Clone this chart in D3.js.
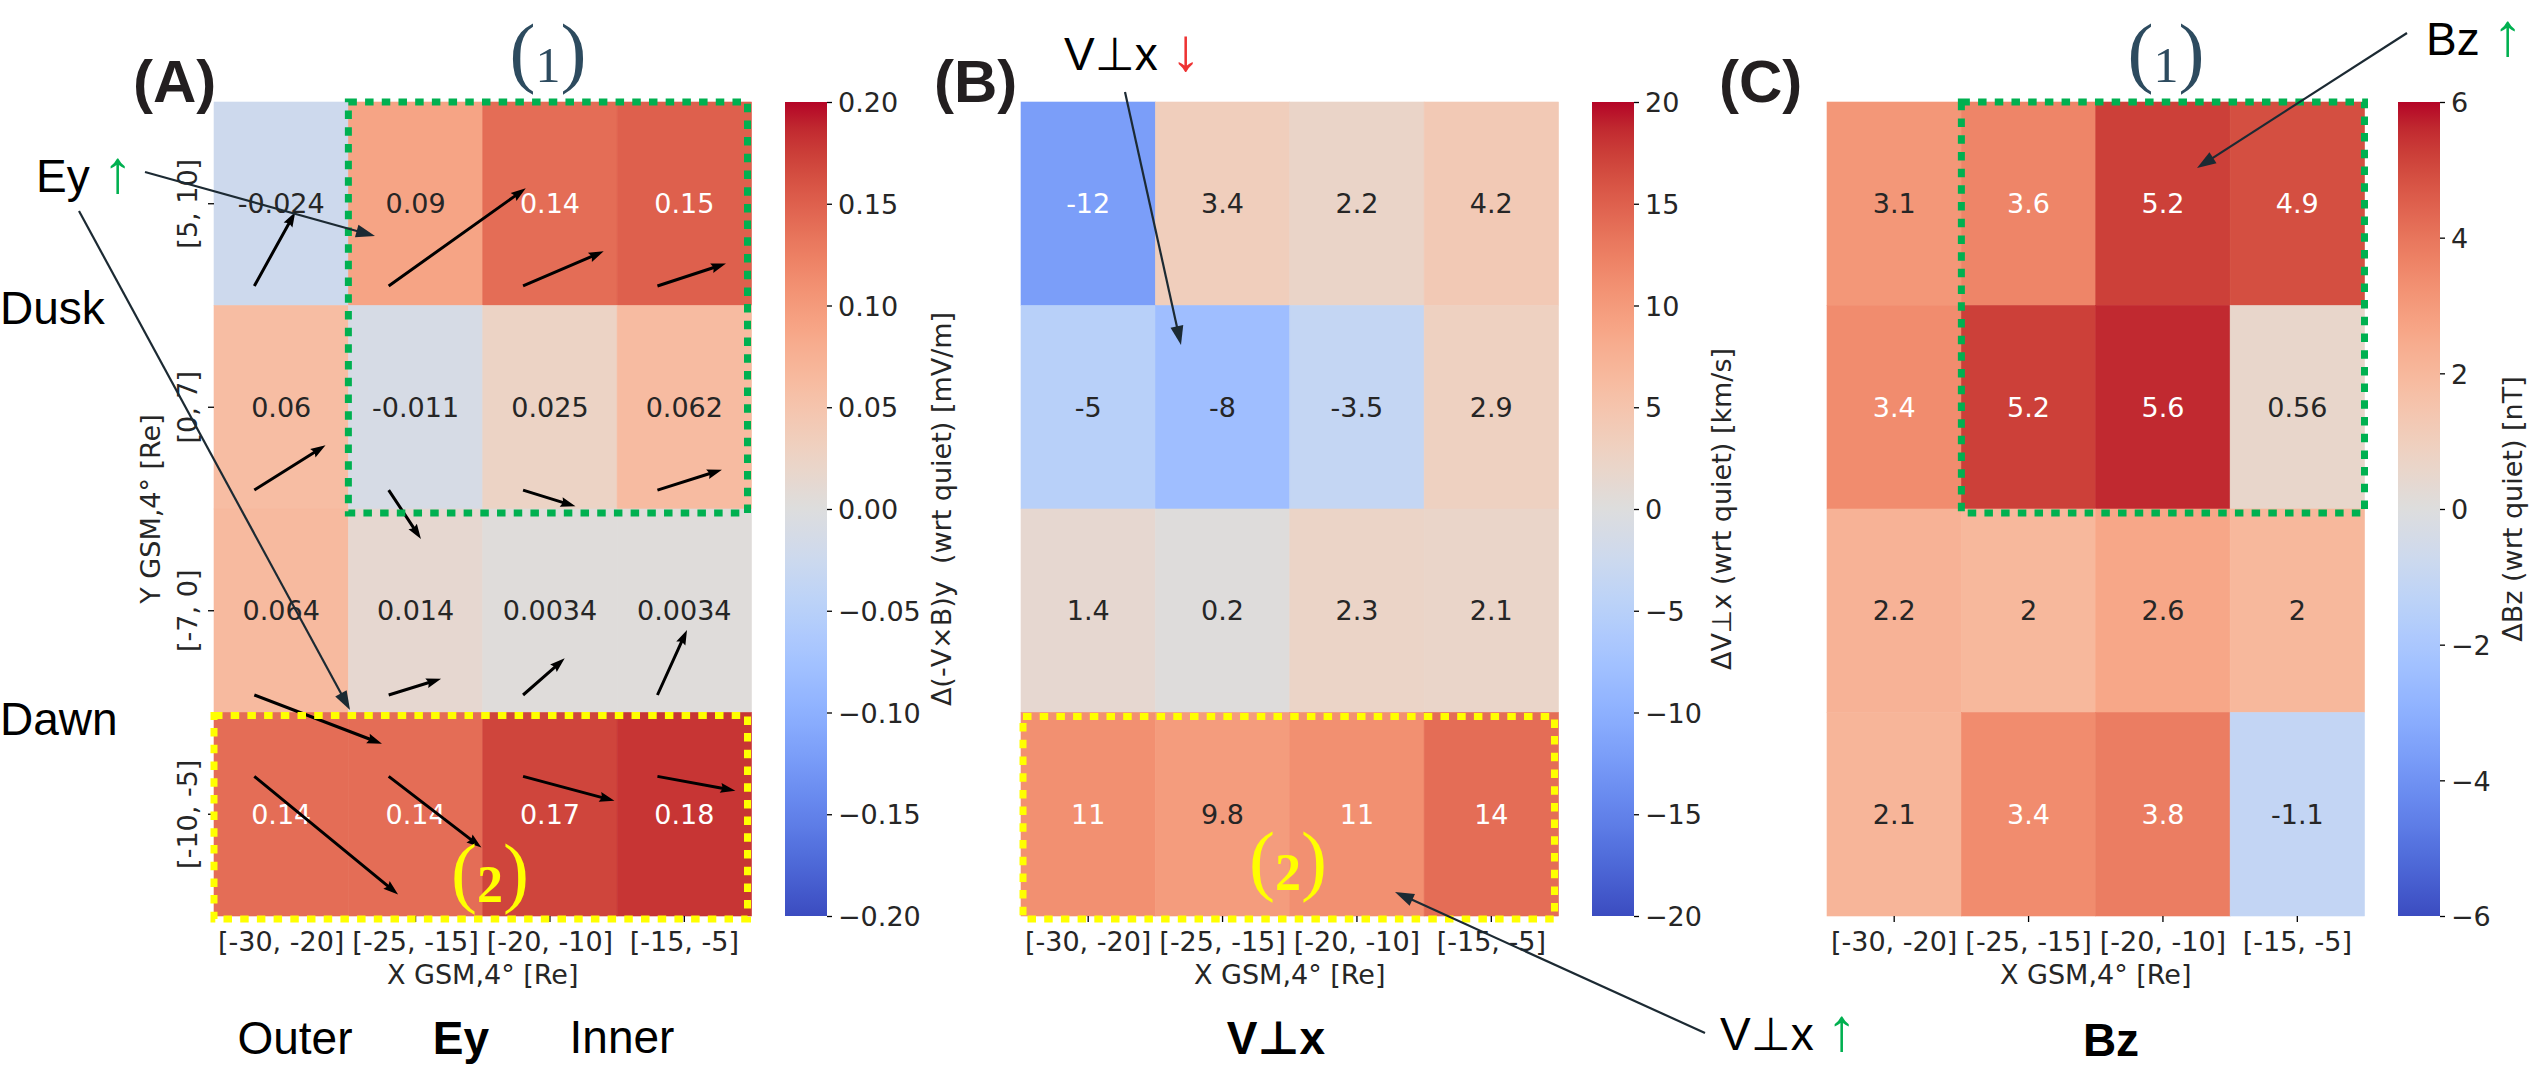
<!DOCTYPE html>
<html>
<head>
<meta charset="utf-8">
<script src="https://cdn.jsdelivr.net/npm/d3@7"></script>
<style>
  html, body { margin: 0; padding: 0; background: #ffffff; }
  svg text { white-space: pre; }
</style>
</head>
<body>
<svg id="fig" width="2534" height="1066"></svg>
<script>
// ---------------------------------------------------------------
// Bins (heatmap axes)
// ---------------------------------------------------------------
const xBins = ["[-30, -20]", "[-25, -15]", "[-20, -10]", "[-15, -5]"];
const yBins = ["[5, 10]", "[0, 7]", "[-7, 0]", "[-10, -5]"];

// Panel A: Δ(-V×B)y, mV/m   (rows follow yBins, columns follow xBins)
const eyValues = [
  [-0.024, 0.09, 0.14, 0.15],
  [0.06, -0.011, 0.025, 0.062],
  [0.064, 0.014, 0.0034, 0.0034],
  [0.14, 0.14, 0.17, 0.18]
];
// Panel B: ΔV⊥x, km/s
const vxValues = [
  [-12, 3.4, 2.2, 4.2],
  [-5, -8, -3.5, 2.9],
  [1.4, 0.2, 2.3, 2.1],
  [11, 9.8, 11, 14]
];
// Panel C: ΔBz, nT
const bzValues = [
  [3.1, 3.6, 5.2, 4.9],
  [3.4, 5.2, 5.6, 0.56],
  [2.2, 2, 2.6, 2],
  [2.1, 3.4, 3.8, -1.1]
];

// Flow vectors drawn over panel A (in cell units: u along X, v upward)
const eyArrowU = [
  [0.305, 1.02, 0.60, 0.51],
  [0.53, 0.24, 0.39, 0.48],
  [0.95, 0.39, 0.31, 0.22],
  [1.07, 0.69, 0.68, 0.58]
];
const eyArrowV = [
  [0.364, 0.48, 0.17, 0.11],
  [0.22, -0.24, -0.08, 0.10],
  [-0.24, 0.08, 0.18, 0.32],
  [-0.58, -0.35, -0.12, -0.07]
];
// vector tail position inside each cell (fraction of cell, from left / from top)
const eyArrowTailX = [0.3, 0.3, 0.3, 0.3];
const eyArrowTailY = [0.904, 0.907, 0.914, 0.314];

// Colorbar ticks
const eyTicks = [-0.20, -0.15, -0.10, -0.05, 0, 0.05, 0.10, 0.15, 0.20];
const vxTicks = [-20, -15, -10, -5, 0, 5, 10, 15, 20];
const bzTicks = [-6, -4, -2, 0, 2, 4, 6];

// coolwarm (Moreland diverging map), 33 evenly spaced stops
const coolwarmStops = [
  "#3b4cc0","#445acc","#4d68d7","#5775e1","#6282ea","#6c8ef1","#779af7","#82a5fb",
  "#8db0fe","#98b9ff","#a3c2ff","#aec9fd","#b8d0f9","#c2d5f4","#ccd9ee","#d5dbe6",
  "#dddddd","#e5d8d1","#ecd3c5","#f1ccb9","#f5c4ad","#f7bba0","#f7b194","#f7a687",
  "#f49a7b","#f18d6f","#ec7f63","#e57058","#de604d","#d55042","#cb3e38","#c0282f","#b40426"
];
const coolwarm = d3.piecewise(d3.interpolateRgb, coolwarmStops);

// ---------------------------------------------------------------
// Layout
// ---------------------------------------------------------------
const svg = d3.select("#fig");
const MPL = "'DejaVu Sans', sans-serif";
const ARIAL = "'Liberation Sans', Arial, 'DejaVu Sans', sans-serif";
const SERIF = "'Liberation Serif', 'DejaVu Serif', serif";
const DARK = "#262626";
const GREEN = "#00b050";
const YELLOW = "#ffff00";
const CALLOUT = "#1c2a33";

const mapTop = 102, mapBottom = 916, mapWidth = 537.5;
const cbGap = 33.5, cbWidth = 42;

const annotFmt = d3.formatLocale({decimal: ".", thousands: ",", grouping: [3], currency: ["", ""], minus: "-"}).format(".2~g");

const panels = [
  {id: "A", values: eyValues, vmax: 0.2, ticks: eyTicks, tickFmt: d3.format(".2f"), x0: 214,
   cbLabel: "Δ(-V×B)y  (wrt quiet) [mV/m]", cbLabelX: 951, yAxis: true},
  {id: "B", values: vxValues, vmax: 20, ticks: vxTicks, tickFmt: d3.format("d"), x0: 1021,
   cbLabel: "ΔV⊥x (wrt quiet) [km/s]", cbLabelX: 1731, yAxis: false},
  {id: "C", values: bzValues, vmax: 6, ticks: bzTicks, tickFmt: d3.format("d"), x0: 1827,
   cbLabel: "ΔBz (wrt quiet) [nT]", cbLabelX: 2522, yAxis: false}
];

function relLum(c) {
  const rgb = d3.rgb(c);
  const f = v => { v /= 255; return v <= 0.03928 ? v / 12.92 : Math.pow((v + 0.055) / 1.055, 2.4); };
  return 0.2126 * f(rgb.r) + 0.7152 * f(rgb.g) + 0.0722 * f(rgb.b);
}

const defs = svg.append("defs");

panels.forEach(p => {
  const g = svg.append("g").attr("class", "panel-" + p.id);
  p.x = d3.scaleBand().domain(xBins).range([p.x0, p.x0 + mapWidth]).padding(0);
  p.y = d3.scaleBand().domain(yBins).range([mapTop, mapBottom]).padding(0);
  p.color = d3.scaleSequential(coolwarm).domain([-p.vmax, p.vmax]);

  const cells = [];
  p.values.forEach((row, i) => row.forEach((v, j) => cells.push({i, j, v})));

  g.selectAll("rect.cell").data(cells).join("rect")
    .attr("class", "cell")
    .attr("x", d => p.x(xBins[d.j]))
    .attr("y", d => p.y(yBins[d.i]))
    .attr("width", p.x.bandwidth())
    .attr("height", p.y.bandwidth())
    .attr("fill", d => p.color(d.v))
    .attr("stroke", d => p.color(d.v))
    .attr("stroke-width", 0.6);

  g.selectAll("text.annot").data(cells).join("text")
    .attr("class", "annot")
    .attr("x", d => p.x(xBins[d.j]) + p.x.bandwidth() / 2)
    .attr("y", d => p.y(yBins[d.i]) + p.y.bandwidth() / 2)
    .attr("dy", "0.36em")
    .attr("text-anchor", "middle")
    .attr("font-family", MPL)
    .attr("font-size", 27)
    .attr("fill", d => relLum(p.color(d.v)) > 0.408 ? DARK : "#ffffff")
    .text(d => annotFmt(d.v));

  // x axis
  const xAxis = g.append("g").attr("transform", `translate(0,${mapBottom})`)
    .call(d3.axisBottom(p.x).tickSize(6).tickPadding(9));
  xAxis.select(".domain").remove();
  xAxis.selectAll("line").attr("stroke", "#000").attr("stroke-width", 1.3);
  xAxis.selectAll("text").attr("font-family", MPL).attr("font-size", 27).attr("fill", DARK)
    .attr("dy", 0).attr("y", 35);
  g.append("text")
    .attr("x", p.x0 + mapWidth / 2).attr("y", 984)
    .attr("text-anchor", "middle").attr("font-family", MPL).attr("font-size", 27).attr("fill", DARK)
    .text("X GSM,4° [Re]");

  // y axis (left panel only)
  if (p.yAxis) {
    const yAxis = g.append("g").attr("transform", `translate(${p.x0},0)`)
      .call(d3.axisLeft(p.y).tickSize(6));
    yAxis.select(".domain").remove();
    yAxis.selectAll("line").attr("stroke", "#000").attr("stroke-width", 1.3);
    yAxis.selectAll("text")
      .attr("transform", "rotate(-90)")
      .attr("x", 0).attr("y", -17).attr("dy", 0)
      .attr("text-anchor", "middle")
      .attr("font-family", MPL).attr("font-size", 27).attr("fill", DARK);
    g.append("text")
      .attr("transform", `translate(160,${(mapTop + mapBottom) / 2}) rotate(-90)`)
      .attr("text-anchor", "middle").attr("font-family", MPL).attr("font-size", 27).attr("fill", DARK)
      .text("Y GSM,4° [Re]");
  }

  // colorbar
  const cbX = p.x0 + mapWidth + cbGap;
  const grad = defs.append("linearGradient").attr("id", "grad" + p.id)
    .attr("x1", 0).attr("y1", 1).attr("x2", 0).attr("y2", 0);
  d3.range(65).forEach(k => {
    const t = k / 64;
    grad.append("stop").attr("offset", t).attr("stop-color", coolwarm(t));
  });
  g.append("rect").attr("x", cbX).attr("y", mapTop).attr("width", cbWidth)
    .attr("height", mapBottom - mapTop).attr("fill", `url(#grad${p.id})`);
  const cbScale = d3.scaleLinear().domain([-p.vmax, p.vmax]).range([mapBottom, mapTop]);
  const cbAxis = g.append("g").attr("transform", `translate(${cbX + cbWidth},0)`)
    .call(d3.axisRight(cbScale).tickValues(p.ticks).tickFormat(p.tickFmt).tickSize(5).tickPadding(6));
  cbAxis.select(".domain").remove();
  cbAxis.selectAll("line").attr("stroke", "#000").attr("stroke-width", 1.3);
  cbAxis.selectAll("text").attr("font-family", MPL).attr("font-size", 27).attr("fill", DARK).attr("dy", "0.36em");
  g.append("text")
    .attr("transform", `translate(${p.cbLabelX},${(mapTop + mapBottom) / 2}) rotate(-90)`)
    .attr("text-anchor", "middle").attr("font-family", MPL).attr("font-size", 27).attr("fill", DARK)
    .text(p.cbLabel);
});

// ---------------------------------------------------------------
// Flow vectors in panel A
// ---------------------------------------------------------------
function quiverShape(x0, y0, x1, y1, w, hl, hw, hal) {
  const dx = x1 - x0, dy = y1 - y0, L = Math.hypot(dx, dy);
  const ux = dx / L, uy = dy / L, nx = -uy, ny = ux;
  const pts = [[0, w / 2], [L - hal, w / 2], [L - hl, hw / 2], [L, 0], [L - hl, -hw / 2], [L - hal, -w / 2], [0, -w / 2]];
  return pts.map(([a, b]) => [x0 + ux * a + nx * b, y0 + uy * a + ny * b]);
}
const pA = panels[0];
const vecs = [];
eyArrowU.forEach((row, i) => row.forEach((u, j) => {
  const bw = pA.x.bandwidth(), bh = pA.y.bandwidth();
  const tx = pA.x(xBins[j]) + eyArrowTailX[j] * bw;
  const ty = pA.y(yBins[i]) + eyArrowTailY[i] * bh;
  vecs.push({tx, ty, hx: tx + u * bw, hy: ty - eyArrowV[i][j] * bh});
}));
svg.append("g").selectAll("polygon").data(vecs).join("polygon")
  .attr("points", d => quiverShape(d.tx, d.ty, d.hx, d.hy, 3, 15, 10, 13.5).map(p => p.join(",")).join(" "))
  .attr("fill", "#000");

// ---------------------------------------------------------------
// Highlight boxes (dashed) and region markers
// ---------------------------------------------------------------
const boxes = [
  {panel: 0, cols: [1, 3], rows: [0, 1], color: GREEN, pad: [0, -4, 0, 4]},
  {panel: 2, cols: [1, 3], rows: [0, 1], color: GREEN, pad: [0, 0, 0, 4]},
  {panel: 0, cols: [0, 3], rows: [3, 3], color: YELLOW, pad: [0, -4, 3, 3]},
  {panel: 1, cols: [0, 3], rows: [3, 3], color: YELLOW, pad: [2, -4, 4, 3]}
];
svg.append("g").selectAll("rect").data(boxes).join("rect")
  .each(function (b) {
    const p = panels[b.panel];
    const x1 = p.x(xBins[b.cols[0]]) + b.pad[0];
    const x2 = p.x(xBins[b.cols[1]]) + p.x.bandwidth() + b.pad[1];
    const y1 = p.y(yBins[b.rows[0]]) + b.pad[2];
    const y2 = p.y(yBins[b.rows[1]]) + p.y.bandwidth() + b.pad[3];
    d3.select(this).attr("x", x1).attr("y", y1).attr("width", x2 - x1).attr("height", y2 - y1);
  })
  .attr("fill", "none")
  .attr("stroke", b => b.color)
  .attr("stroke-width", 7)
  .attr("stroke-dasharray", "8.5,8.2");

function regionMark(cx, base, digit, color, digitSize, digitDy, digitWeight) {
  const t = svg.append("text").attr("x", cx).attr("y", base).attr("text-anchor", "middle")
    .attr("font-family", SERIF).attr("fill", color);
  t.append("tspan").attr("font-size", 78).text("(");
  t.append("tspan").attr("font-size", digitSize).attr("font-weight", digitWeight).attr("dy", digitDy).text(digit);
  t.append("tspan").attr("font-size", 78).attr("dy", -digitDy).text(")");
}
regionMark(548, 78, "1", "#2d4b5f", 50, 4, "normal");
regionMark(2166, 78, "1", "#2d4b5f", 50, 4, "normal");
regionMark(490, 898, "2", YELLOW, 52, 4, "bold");
regionMark(1288, 886, "2", YELLOW, 52, 4, "bold");

// ---------------------------------------------------------------
// Panel letters and side / bottom captions
// ---------------------------------------------------------------
[["(A)", 133], ["(B)", 934], ["(C)", 1719]].forEach(([s, x]) => {
  svg.append("text").attr("x", x).attr("y", 102).attr("font-family", ARIAL)
    .attr("font-weight", "bold").attr("font-size", 60).attr("fill", "#231f20").text(s);
});

// caption parts: [string, colour, font-size (optional)]
function caption(x, y, parts, opts = {}) {
  const t = svg.append("text").attr("x", x).attr("y", y)
    .attr("font-family", ARIAL).attr("font-size", opts.size || 46)
    .attr("text-anchor", opts.anchor || "start")
    .attr("font-weight", opts.bold ? "bold" : "normal");
  parts.forEach(([s, c, fs]) => {
    const sp = t.append("tspan").attr("fill", c).text(s);
    if (fs) sp.attr("font-size", fs);
  });
}
const ARROW_SIZE = 60;
caption(36, 192, [["Ey ", "#000"], ["↑", GREEN, ARROW_SIZE]]);
caption(0, 324, [["Dusk", "#000"]]);
caption(0, 735, [["Dawn", "#000"]]);
caption(295, 1054, [["Outer", "#000"]], {anchor: "middle"});
caption(461, 1054, [["Ey", "#000"]], {anchor: "middle", bold: true});
caption(622, 1053, [["Inner", "#000"]], {anchor: "middle"});
caption(1276, 1054, [["V⊥x", "#000"]], {anchor: "middle", bold: true});
caption(2111, 1056, [["Bz", "#000"]], {anchor: "middle", bold: true});
caption(1064, 70, [["V⊥x ", "#000"], ["↓", "#ee3333", ARROW_SIZE]]);
caption(1720, 1050, [["V⊥x ", "#000"], ["↑", GREEN, ARROW_SIZE]]);
caption(2426, 55, [["Bz ", "#000"], ["↑", GREEN, ARROW_SIZE]]);

// ---------------------------------------------------------------
// Callout arrows
// ---------------------------------------------------------------
const callouts = [
  {from: [145, 172], to: [375, 236]},
  {from: [79, 211], to: [350, 710]},
  {from: [1125, 92], to: [1181, 345]},
  {from: [2407, 33], to: [2197, 168]},
  {from: [1705, 1033], to: [1395, 892]}
];
const cg = svg.append("g");
callouts.forEach(c => {
  const [x0, y0] = c.from, [x1, y1] = c.to;
  const L = Math.hypot(x1 - x0, y1 - y0), ux = (x1 - x0) / L, uy = (y1 - y0) / L;
  const hl = 19, hw = 13;
  const bx = x1 - ux * hl, by = y1 - uy * hl;
  cg.append("line").attr("x1", x0).attr("y1", y0).attr("x2", bx + ux * 2).attr("y2", by + uy * 2)
    .attr("stroke", CALLOUT).attr("stroke-width", 2.2);
  cg.append("polygon")
    .attr("points", [[x1, y1], [bx - uy * hw / 2, by + ux * hw / 2], [bx + uy * hw / 2, by - ux * hw / 2]].map(p => p.join(",")).join(" "))
    .attr("fill", CALLOUT);
});
</script>
</body>
</html>
